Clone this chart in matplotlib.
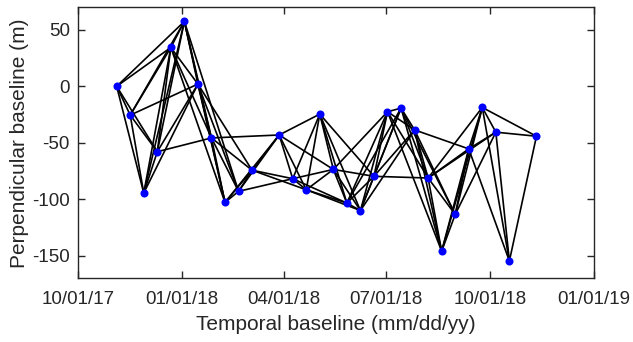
import matplotlib
matplotlib.use('Agg')

import datetime as dt
import matplotlib.pyplot as plt
import matplotlib.dates as mdates

plt.rcParams['font.family'] = ['Liberation Sans', 'DejaVu Sans']
plt.rcParams['axes.unicode_minus'] = False

# acquisition dates (12-day repeat) and perpendicular baselines (m)
dates = ['2017-11-04', '2017-11-16', '2017-11-28', '2017-12-10', '2017-12-22',
         '2018-01-03', '2018-01-15', '2018-01-27', '2018-02-08', '2018-02-20',
         '2018-03-04', '2018-03-28', '2018-04-09', '2018-04-21', '2018-05-03',
         '2018-05-15', '2018-05-27', '2018-06-08', '2018-06-20', '2018-07-02',
         '2018-07-14', '2018-07-26', '2018-08-07', '2018-08-19', '2018-08-31',
         '2018-09-12', '2018-09-24', '2018-10-06', '2018-10-18', '2018-11-11']
bperp = [0.0, -25.5, -94.5, -57.9, 34.4, 57.5, 2.0, -45.7, -102.8, -93.0,
         -74.3, -43.1, -81.8, -91.6, -24.6, -73.6, -103.4, -110.0, -79.7, -22.5,
         -19.3, -38.6, -81.2, -146.0, -113.5, -55.4, -18.7, -40.6, -154.7, -44.2]

# interferometric pairs (index into dates)
pairs = [(0, 1), (0, 2), (0, 3), (0, 4), (0, 5),
         (1, 2), (1, 3), (1, 4), (1, 5), (1, 6),
         (2, 3), (2, 4), (2, 5), (2, 6),
         (3, 4), (3, 5), (3, 6), (3, 7),
         (4, 5), (4, 6), (4, 7), (4, 8),
         (5, 6), (5, 7), (5, 8), (5, 9),
         (6, 7), (6, 8), (6, 9), (6, 10),
         (7, 8), (7, 9), (7, 10), (7, 11),
         (8, 9), (8, 10), (8, 11),
         (9, 10), (9, 11), (9, 12),
         (10, 11), (10, 12), (10, 13),
         (11, 12), (11, 13), (11, 14), (11, 15),
         (12, 13), (12, 14), (12, 15), (12, 16),
         (13, 14), (13, 15), (13, 16), (13, 17),
         (14, 15), (14, 16), (14, 17), (14, 18),
         (15, 16), (15, 17), (15, 18), (15, 19),
         (16, 17), (16, 18), (16, 19), (16, 20),
         (17, 18), (17, 19), (17, 20), (17, 21),
         (18, 19), (18, 20), (18, 21), (18, 22),
         (19, 20), (19, 21), (19, 22), (19, 23),
         (20, 21), (20, 22), (20, 23), (20, 24),
         (21, 22), (21, 23), (21, 24), (21, 25),
         (22, 23), (22, 24), (22, 25), (22, 26), (22, 27),
         (23, 24), (23, 25), (23, 26),
         (24, 25), (24, 26), (24, 27),
         (25, 26), (25, 27), (25, 28),
         (26, 27), (26, 28), (26, 29),
         (27, 28), (27, 29),
         (28, 29)]

xtick_dates = ['2017-10-01', '2018-01-01', '2018-04-01', '2018-07-01',
               '2018-10-01', '2019-01-01']
yticks = [-150, -100, -50, 0, 50]

d = [dt.datetime.strptime(s, '%Y-%m-%d') for s in dates]
xt = [dt.datetime.strptime(s, '%Y-%m-%d') for s in xtick_dates]

fig = plt.figure(figsize=(6.33, 3.42), dpi=100)
ax = fig.add_axes([0.1237, 0.1863, 0.8147, 0.7924])

for i, j in pairs:
    ax.plot([d[i], d[j]], [bperp[i], bperp[j]], color='black', lw=1.2, zorder=1)
ax.plot(d, bperp, 'o', color='blue', markersize=5.8, markeredgewidth=0, zorder=2)

ax.set_xlim(xt[0], xt[-1])
ax.set_ylim(-170, 70)
ax.set_xticks(xt)
ax.xaxis.set_major_formatter(mdates.DateFormatter('%m/%d/%y'))
ax.set_yticks(yticks)

txt = '#262626'
for s in ax.spines.values():
    s.set_color(txt)
    s.set_linewidth(1.0)
ax.tick_params(direction='in', length=5, width=1.0, colors=txt, labelsize=13.5,
               top=True, right=True)
ax.tick_params(axis='x', pad=9)
ax.tick_params(axis='y', pad=6)
ax.set_xlabel('Temporal baseline (mm/dd/yy)', fontsize=15, color=txt, labelpad=5)
ax.set_ylabel('Perpendicular baseline (m)', fontsize=15, color=txt, labelpad=2)

fig.savefig('out.png', dpi=100)
